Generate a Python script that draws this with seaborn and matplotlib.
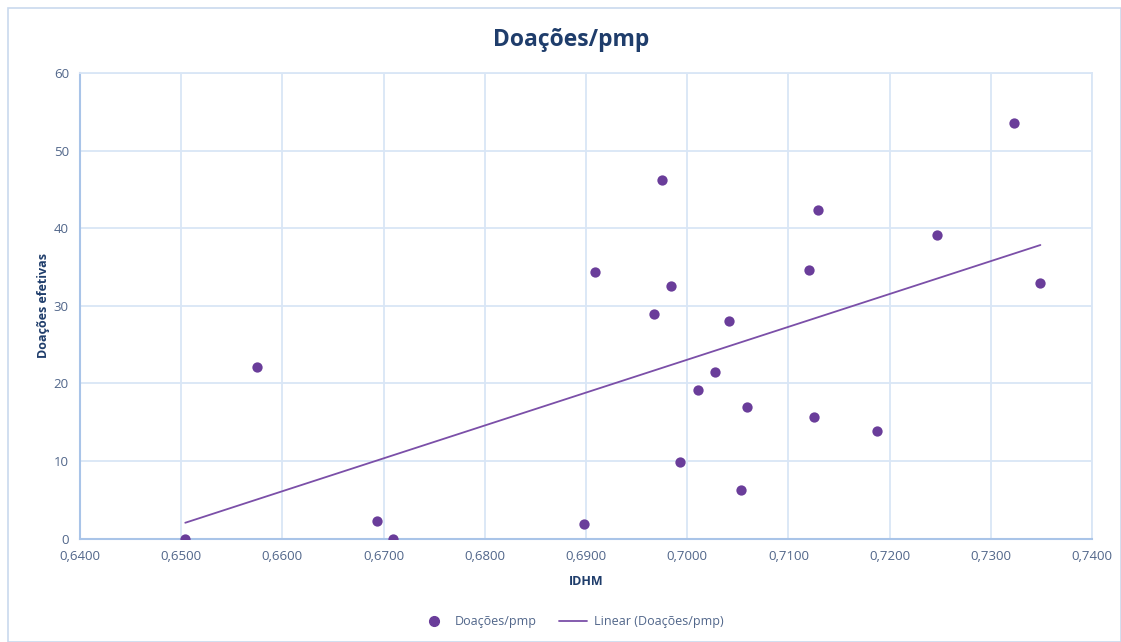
import numpy as np
import pandas as pd
import matplotlib
matplotlib.use("Agg")
import matplotlib.pyplot as plt
import seaborn as sns
from matplotlib.lines import Line2D
from matplotlib.patches import Rectangle
from matplotlib.ticker import FuncFormatter, MultipleLocator

# Data
idhm = [0.6504, 0.6575, 0.6693, 0.6709, 0.6898, 0.6909, 0.6967, 0.6975,
        0.6984, 0.6993, 0.7011, 0.7027, 0.7041, 0.7053, 0.7059, 0.7120,
        0.7125, 0.7129, 0.7188, 0.7247, 0.7323, 0.7349]
doacoes = [0.0, 22.1, 2.3, 0.0, 1.9, 34.4, 28.9, 46.2,
           32.6, 9.8, 19.1, 21.4, 28.0, 6.2, 16.9, 34.6,
           15.7, 42.3, 13.8, 39.1, 53.6, 32.9]

title = "Doações/pmp"
xlabel = "IDHM"
ylabel = "Doações efetivas"
series_name = "Doações/pmp"
trend_name = "Linear (Doações/pmp)"

df = pd.DataFrame({"IDHM": idhm, "Doacoes": doacoes})

sns.set_theme(style="white")
plt.rcParams['font.family'] = ['Open Sans', 'DejaVu Sans']

purple = "#6A3D9A"
grid_c = "#D9E6F6"
axis_c = "#A9C4E8"
tick_c = "#51668A"
title_c = "#1F3D6B"

fig = plt.figure(figsize=(11.21, 6.42), dpi=100)
ax = fig.add_axes([80/1121, 1-538.5/642, (1092-80)/1121, (538.5-73)/642])

# outer chart border
fig.patches.append(Rectangle((8/1121, 0.0), 1-8/1121, 1-8/642, transform=fig.transFigure,
                             fill=False, edgecolor="#C9D9EE", linewidth=1.2))

sns.regplot(data=df, x="IDHM", y="Doacoes", scatter=False, ci=None, ax=ax,
            line_kws=dict(color="#7B4FA8", linewidth=1.3), truncate=True)
sns.scatterplot(data=df, x="IDHM", y="Doacoes", ax=ax, color=purple, s=55,
                edgecolor=purple, linewidth=0, zorder=5)

ax.set_xlim(0.64, 0.74)
ax.set_ylim(0, 60)
ax.xaxis.set_major_locator(MultipleLocator(0.01))
ax.yaxis.set_major_locator(MultipleLocator(10))
ax.xaxis.set_major_formatter(FuncFormatter(lambda v, p: f"{v:.4f}".replace(".", ",")))
ax.yaxis.set_major_formatter(FuncFormatter(lambda v, p: f"{v:.0f}"))

ax.grid(True, color=grid_c, linewidth=1.3)
ax.set_axisbelow(True)
for s in ["top", "right"]:
    ax.spines[s].set_color(grid_c)
    ax.spines[s].set_linewidth(1.3)
for s in ["left", "bottom"]:
    ax.spines[s].set_color(axis_c)
    ax.spines[s].set_linewidth(1.5)

ax.tick_params(axis="both", colors=tick_c, labelsize=9.5, length=0, pad=8)
ax.set_xlabel(xlabel, fontsize=9, fontweight="bold", color=title_c, labelpad=9)
ax.set_ylabel(ylabel, fontsize=9, fontweight="bold", color=title_c, labelpad=3)
fig.text(571/1121, 1-40/642, title, fontsize=16.5, fontweight="bold", color=title_c,
         ha="center", va="center")

handles = [Line2D([0], [0], marker="o", color="none", markerfacecolor=purple,
                  markeredgecolor=purple, markersize=7, label=series_name),
           Line2D([0], [0], color="#7B4FA8", linewidth=1.3, label=trend_name)]
fig.legend(handles=handles, loc="center", bbox_to_anchor=(572/1121, 1-622/642), ncol=2,
           frameon=False, fontsize=9, labelcolor=tick_c, handlelength=2.2,
           columnspacing=1.8, handletextpad=0.6)

fig.savefig("out.png", dpi=100)
